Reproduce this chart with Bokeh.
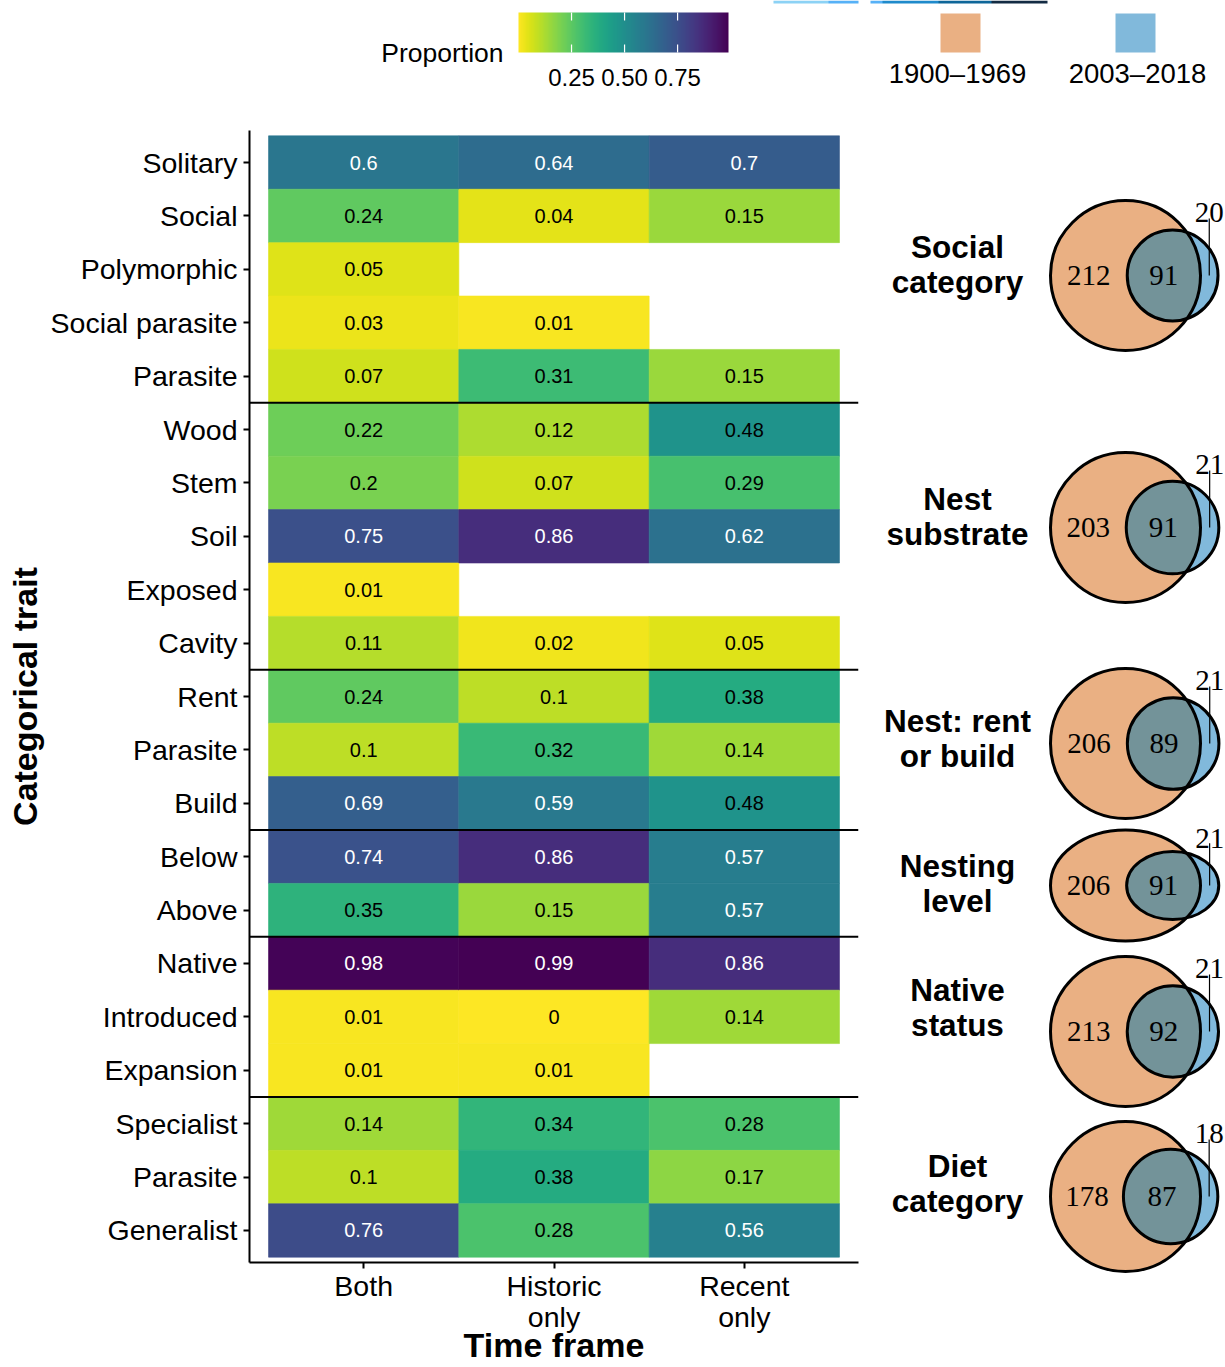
import math
import numpy as np
from bokeh.plotting import figure
from bokeh.models import Range1d, FixedTicker, LinearColorMapper, ColumnDataSource, Span
from bokeh.layouts import column, row
from bokeh.palettes import Viridis256
from bokeh.transform import transform
from bokeh.core.properties import value
from bokeh.embed import file_html
from bokeh.resources import INLINE

# ---------------- data ----------------
traits = ["Solitary", "Social", "Polymorphic", "Social parasite", "Parasite",
          "Wood", "Stem", "Soil", "Exposed", "Cavity",
          "Rent", "Parasite", "Build",
          "Below", "Above",
          "Native", "Introduced", "Expansion",
          "Specialist", "Parasite", "Generalist"]
group_sizes = [5, 5, 3, 2, 3, 3]
time_frames = ["Both", "Historic\nonly", "Recent\nonly"]
both = [0.6, 0.24, 0.05, 0.03, 0.07, 0.22, 0.2, 0.75, 0.01, 0.11, 0.24, 0.1, 0.69,
        0.74, 0.35, 0.98, 0.01, 0.01, 0.14, 0.1, 0.76]
historic_only = [0.64, 0.04, None, 0.01, 0.31, 0.12, 0.07, 0.86, None, 0.02, 0.1, 0.32, 0.59,
                 0.86, 0.15, 0.99, 0, 0.01, 0.34, 0.38, 0.28]
recent_only = [0.7, 0.15, None, None, 0.15, 0.48, 0.29, 0.62, None, 0.05, 0.38, 0.14, 0.48,
               0.57, 0.57, 0.86, 0.14, None, 0.28, 0.17, 0.56]

venn_groups = [["Social", "category"], ["Nest", "substrate"], ["Nest: rent", "or build"],
               ["Nesting", "level"], ["Native", "status"], ["Diet", "category"]]
venn_hist_only = [212, 203, 206, 206, 213, 178]
venn_shared = [91, 91, 89, 91, 92, 87]
venn_recent_only = [20, 21, 21, 21, 21, 18]
period_labels = ["1900\u20131969", "2003\u20132018"]
cbar_ticks = [0.25, 0.5, 0.75]
legend_title = "Proportion"
x_title = "Time frame"
y_title = "Categorical trait"

# ---------------- style ----------------
SANS = "Liberation Sans"
SERIF = "Liberation Serif"
COL_HIST = "#EAB083"
COL_RECENT = "#81B9DB"
COL_OVERLAP = "#739399"

all_vals = [v for c in (both, historic_only, recent_only) for v in c if v is not None]
mapper = LinearColorMapper(palette=list(reversed(Viridis256)), low=min(all_vals), high=max(all_vals))

# ---------------- heatmap ----------------
xs, ys, vs, labs, tcs = [], [], [], [], []
for ci, colvals in enumerate((both, historic_only, recent_only)):
    for ri, v in enumerate(colvals):
        if v is None:
            continue
        xs.append(ci)
        ys.append(ri)
        vs.append(v)
        labs.append(f"{v:g}")
        tcs.append("white" if v > 0.5 else "black")
src = ColumnDataSource(dict(x=xs, y=ys, v=vs, lab=labs, tc=tcs))

n_rows, n_cols = len(traits), len(time_frames)
PAD = 0.1
TOP_H = 110
HW, HH = 870, 1367 - TOP_H
BL, BR, BT, BB = 249, 12, 20, 105
x_rng = Range1d(-0.5 - PAD, n_cols - 0.5 + PAD)
y_rng = Range1d(n_rows - 0.5 + PAD, -0.5 - PAD)

heat = figure(width=HW, height=HH, x_range=x_rng, y_range=y_rng,
              output_backend="svg", toolbar_location=None,
              min_border_left=BL, min_border_right=BR, min_border_top=BT, min_border_bottom=BB)
heat.outline_line_color = None
heat.grid.visible = False

heat.rect(x="x", y="y", width=1, height=1, source=src,
          fill_color=transform("v", mapper), line_color=transform("v", mapper), line_width=0.6)
heat.text(x="x", y="y", text="lab", source=src, text_color="tc",
          text_font=value(SANS), text_font_size="20px",
          text_align="center", text_baseline="middle")

b = -0.5
for g in group_sizes[:-1]:
    b += g
    heat.add_layout(Span(location=b, dimension="width", line_color="black", line_width=2))

heat.xaxis.ticker = FixedTicker(ticks=list(range(n_cols)))
heat.xaxis.major_label_overrides = {i: t for i, t in enumerate(time_frames)}
heat.yaxis.ticker = FixedTicker(ticks=list(range(n_rows)))
heat.yaxis.major_label_overrides = {i: t for i, t in enumerate(traits)}
for ax in (heat.xaxis[0], heat.yaxis[0]):
    ax.axis_line_width = 2
    ax.axis_line_color = "black"
    ax.major_tick_line_width = 2
    ax.major_tick_line_color = "black"
    ax.major_tick_out = 6
    ax.major_tick_in = 0
    ax.minor_tick_line_color = None
    ax.major_label_text_font = SANS
    ax.major_label_text_font_size = "28.5px"
    ax.major_label_text_color = "black"
    ax.axis_label_text_font = SANS
    ax.axis_label_text_font_style = "bold"
    ax.axis_label_text_font_size = "34px"
    ax.axis_label_text_color = "black"
heat.xaxis.major_label_standoff = 1
heat.xaxis.major_label_text_line_height = 0.98
heat.xaxis.axis_label = x_title
heat.xaxis.axis_label_standoff = -10
heat.yaxis.major_label_standoff = 6
heat.yaxis.axis_label = y_title
heat.yaxis.axis_label_standoff = 4

# ---------------- venn panel ----------------
VX0, VX1, VY0, VY1 = HW, 1225, TOP_H, 1367
venn = figure(width=VX1 - VX0, height=VY1 - VY0, x_range=Range1d(VX0, VX1), y_range=Range1d(VY1, VY0),
              output_backend="svg", toolbar_location=None, min_border=0,
              x_axis_location=None, y_axis_location=None)
venn.outline_line_color = None
venn.grid.visible = False

venn_cx = 1125
venn_cy = [275, 527, 743, 885, 1031, 1196]
venn_sy = [1, 1, 1, 0.74, 1, 1]
venn_rpx = 75
label_cx = 957
label_cy = [263.5, 515.5, 737.5, 883, 1006.5, 1182.5]


def lens_area(r1, r2, d):
    if d >= r1 + r2:
        return 0.0
    if d <= abs(r1 - r2):
        return math.pi * min(r1, r2) ** 2
    a1 = math.acos((d * d + r1 * r1 - r2 * r2) / (2 * d * r1))
    a2 = math.acos((d * d + r2 * r2 - r1 * r1) / (2 * d * r2))
    k = 0.5 * math.sqrt((-d + r1 + r2) * (d + r1 - r2) * (d - r1 + r2) * (d + r1 + r2))
    return r1 * r1 * a1 + r2 * r2 * a2 - k


def solve_d(r1, r2, target):
    lo, hi = abs(r1 - r2) + 1e-9, r1 + r2
    for _ in range(200):
        mid = (lo + hi) / 2
        if lens_area(r1, r2, mid) > target:
            lo = mid
        else:
            hi = mid
    return (lo + hi) / 2


for i in range(len(venn_groups)):
    h, s, r = venn_hist_only[i], venn_shared[i], venn_recent_only[i]
    r1 = math.sqrt((h + s) / math.pi)
    r2 = math.sqrt((s + r) / math.pi)
    d = solve_d(r1, r2, s)
    k = venn_rpx / r1
    cx, cy, sy = venn_cx, venn_cy[i], venn_sy[i]
    bx = cx + d * k
    venn.ellipse(x=cx, y=cy, width=2 * r1 * k, height=2 * r1 * k * sy,
                 fill_color=COL_HIST, line_color=None)
    venn.ellipse(x=bx, y=cy, width=2 * r2 * k, height=2 * r2 * k * sy,
                 fill_color=COL_RECENT, line_color=None)
    x0 = (d * d + r1 * r1 - r2 * r2) / (2 * d)
    hh = math.sqrt(max(r1 * r1 - x0 * x0, 0))
    tA = math.atan2(hh, x0)
    tB = math.atan2(hh, d - x0)
    angA = np.linspace(tA, -tA, 80)
    angB = np.linspace(math.pi + tB, math.pi - tB, 80)
    lx = np.concatenate([r1 * np.cos(angA), d + r2 * np.cos(angB)])
    ly = np.concatenate([r1 * np.sin(angA), r2 * np.sin(angB)])
    venn.patch(cx + k * lx, cy + k * sy * ly, fill_color=COL_OVERLAP, line_color=None)
    venn.ellipse(x=cx, y=cy, width=2 * r1 * k, height=2 * r1 * k * sy,
                 fill_color=None, line_color="black", line_width=3)
    venn.ellipse(x=bx, y=cy, width=2 * r2 * k, height=2 * r2 * k * sy,
                 fill_color=None, line_color="black", line_width=3)
    a_left, a_right = cx - r1 * k, cx + r1 * k
    b_left, b_right = bx - r2 * k, bx + r2 * k
    rx = (a_right + b_right) / 2
    venn.text(x=[(a_left + b_left) / 2, (b_left + a_right) / 2], y=[cy, cy],
              text=[str(h), str(s)], text_font=value(SERIF), text_font_size="29px",
              text_align="center", text_baseline="middle", text_color="black")
    venn.text(x=[rx], y=[cy - 0.84 * venn_rpx * sy], text=[str(r)], text_font=value(SERIF),
              text_font_size="29px", text_align="center", text_baseline="middle", text_color="black")
    venn.segment(x0=rx, y0=cy - 0.76 * venn_rpx * sy, x1=rx, y1=cy, line_color="black", line_width=1.2)
    l1, l2 = venn_groups[i]
    venn.text(x=[label_cx, label_cx], y=[label_cy[i] - 17.5, label_cy[i] + 17.5], text=[l1, l2],
              text_font=value(SANS), text_font_style="bold", text_font_size="31.5px",
              text_align="center", text_baseline="middle", text_color="black")

# ---------------- top legends (split left / right) ----------------
strip = np.linspace(0, 1, 256).reshape(1, -1)
strip_mapper = LinearColorMapper(palette=["#8CD2F5", "#56B1F7", "#1F8ACB", "#0E6699", "#132B43"], low=0, high=1)
strip_x, strip_w = 773, 274

top_l = figure(width=HW, height=TOP_H, x_range=Range1d(BL, HW - BR), y_range=Range1d(TOP_H, 0),
               output_backend="svg", toolbar_location=None,
               min_border_left=BL, min_border_right=BR, min_border_top=0, min_border_bottom=0,
               x_axis_location=None, y_axis_location=None)
top_l.outline_line_color = None
top_l.grid.visible = False
top_l.image(image=[strip], x=strip_x, y=0, dw=strip_w, dh=3, color_mapper=strip_mapper)

cb_l, cb_r, cb_t, cb_b = 518, 728, 12, 52
grad = np.linspace(mapper.low, mapper.high, 256).reshape(1, -1)
top_l.image(image=[grad], x=cb_l, y=cb_t, dw=cb_r - cb_l, dh=cb_b - cb_t, color_mapper=mapper)
tx = [cb_l + (t - mapper.low) / (mapper.high - mapper.low) * (cb_r - cb_l) for t in cbar_ticks]
tick_len = (cb_b - cb_t) / 5
top_l.segment(x0=tx, y0=[cb_t] * len(tx), x1=tx, y1=[cb_t + tick_len] * len(tx), line_color="white", line_width=1.2)
top_l.segment(x0=tx, y0=[cb_b - tick_len] * len(tx), x1=tx, y1=[cb_b] * len(tx), line_color="white", line_width=1.2)
top_l.text(x=tx, y=[77] * len(tx), text=[f"{t:.2f}" for t in cbar_ticks], text_font=value(SANS),
           text_font_size="24px", text_align="center", text_baseline="middle", text_color="black")
top_l.text(x=[503], y=[52], text=[legend_title], text_font=value(SANS), text_font_size="26.5px",
           text_align="right", text_baseline="middle", text_color="black")

top_r = figure(width=VX1 - VX0, height=TOP_H, x_range=Range1d(VX0, VX1), y_range=Range1d(TOP_H, 0),
               output_backend="svg", toolbar_location=None, min_border=0,
               x_axis_location=None, y_axis_location=None)
top_r.outline_line_color = None
top_r.grid.visible = False
top_r.image(image=[strip], x=strip_x, y=0, dw=strip_w, dh=3, color_mapper=strip_mapper)
sw_x = [960, 1135]
top_r.rect(x=sw_x, y=[32.5, 32.5], width=40, height=39, fill_color=[COL_HIST, COL_RECENT], line_color=None)
top_r.text(x=[957, 1137], y=[73, 73], text=period_labels, text_font=value(SANS), text_font_size="27.5px",
           text_align="center", text_baseline="middle", text_color="black")

layout = row(column(top_l, heat), column(top_r, venn))
open("out.html", "w").write(file_html(layout, INLINE))
